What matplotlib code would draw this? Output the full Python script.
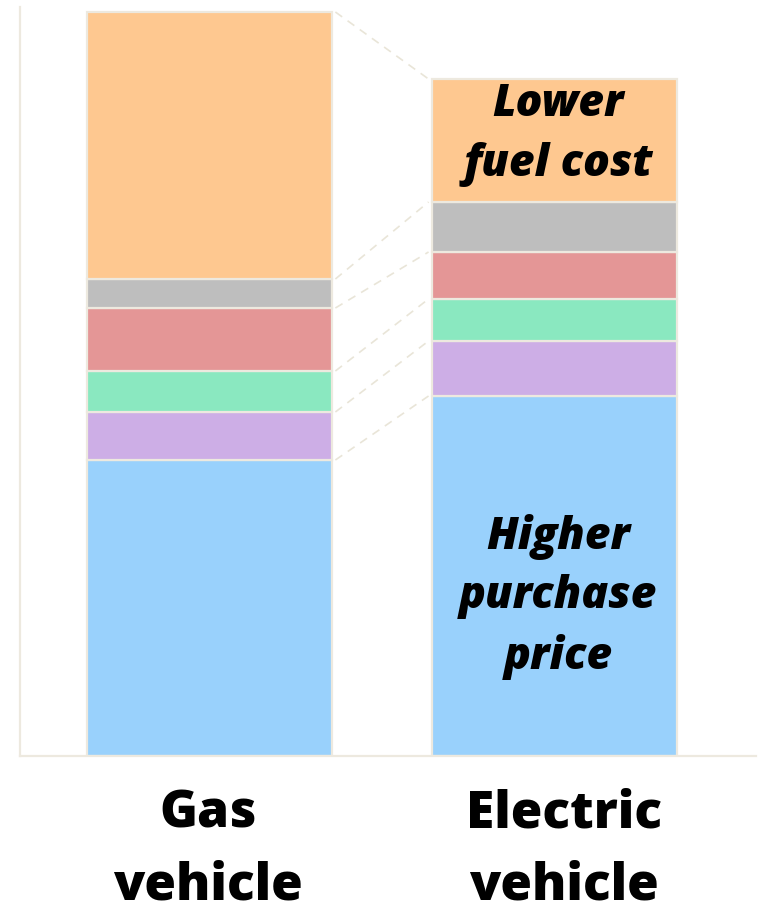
import matplotlib
matplotlib.use("Agg")
import matplotlib.pyplot as plt
import matplotlib.transforms as mtransforms
import numpy as np

# cost components, bottom to top (relative units)
vehicles = ["Gas\nvehicle", "Electric\nvehicle"]
components = ["Purchase price", "Component 2", "Component 3", "Component 4", "Component 5", "Fuel cost"]
gas = [29.6, 4.8, 4.1, 6.3, 2.9, 26.7]
electric = [36.0, 5.5, 4.2, 4.7, 5.0, 12.3]
colors = ["#99D1FC", "#CDAEE6", "#8AE8C0", "#E49696", "#BEBEBE", "#FEC890"]

EDGE = "#EDE9DF"
FONT = ["Open Sans", "DejaVu Sans"]
W = 0.71

fig = plt.figure(figsize=(7.58, 9.12), dpi=100)
ax = fig.add_axes([20 / 758, 155 / 912, 736 / 758, 749 / 912])

x = np.arange(len(vehicles))
stacks = np.array([gas, electric])
bottoms = np.zeros(len(vehicles))
for i, c in enumerate(colors):
    ax.bar(x, stacks[:, i], W, bottom=bottoms, color=c, edgecolor=EDGE,
           linewidth=1.6, zorder=2)
    bottoms += stacks[:, i]

# dashed connectors between segment tops
tops = np.cumsum(stacks, axis=1)
for i in range(len(components)):
    ax.plot([x[0] + W / 2 + 0.01, x[1] - W / 2 - 0.01], [tops[0, i], tops[1, i]],
            ls=(0, (5, 4)), color="#E9E5D8", lw=1.2, zorder=1)

ax.text(x[1] + 0.01, tops[1, 4] + electric[5] / 2 + 0.7, "Lower\nfuel cost",
        ha="center", va="center", fontsize=32, fontweight="heavy",
        fontstyle="italic", family=FONT, linespacing=1.42)
ax.text(x[1] + 0.01, 16.0, "Higher\npurchase\nprice",
        ha="center", va="center", fontsize=32, fontweight="heavy",
        fontstyle="italic", family=FONT, linespacing=1.42)

# category labels under the bars
trans = mtransforms.blended_transform_factory(ax.transData, ax.transAxes)
for xi, lbl, dx in zip(x, vehicles, [-0.005, 0.027]):
    ax.text(xi + dx, -0.042, lbl, transform=trans, ha="center", va="top",
            fontsize=37, fontweight="heavy", family=FONT, linespacing=1.55)

ax.set_xlim(-0.549, 1.584)
ax.set_ylim(0, 74.9)
ax.set_xticks([])
ax.set_yticks([])
for s in ["top", "right"]:
    ax.spines[s].set_visible(False)
for s in ["left", "bottom"]:
    ax.spines[s].set_color(EDGE)
    ax.spines[s].set_linewidth(1.6)

fig.savefig("out.png", dpi=100)
